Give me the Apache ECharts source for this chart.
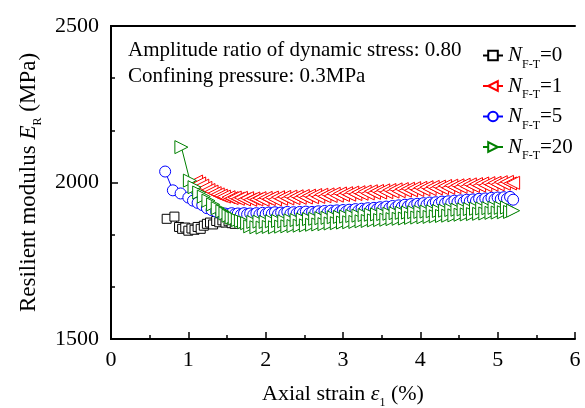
<!DOCTYPE html>
<html>
<head>
<meta charset="utf-8">
<script src="https://cdn.jsdelivr.net/npm/echarts@6/dist/echarts.min.js"></script>
<style>
html,body{margin:0;padding:0;background:#fff}
#chart{width:585px;height:408px}
</style>
</head>
<body>
<div id="chart"></div>
<script>
// N(F-T)=0
var strain0 = [0.72,0.82,0.88,0.92,0.96,1.00,1.04,1.08,1.12,1.16,1.20,1.24,1.28,1.32,1.36,1.40,1.44,1.48,1.52,1.56,1.60];
var modulus0 = [1884,1891,1858,1852,1856,1846,1853,1849,1858,1852,1862,1868,1872,1866,1877,1873,1879,1872,1876,1870,1868];

// strain readings shared by the long tests (1.52 .. 5.20)
var strainTail = [1.52,1.56,1.60,1.64,1.68,1.72,1.76,1.80,1.84,1.88,
  1.92,1.96,2.00,2.04,2.08,2.12,2.16,2.20,2.24,2.28,
  2.32,2.36,2.40,2.44,2.48,2.52,2.56,2.60,2.64,2.68,
  2.72,2.76,2.80,2.84,2.88,2.92,2.96,3.00,3.04,3.08,
  3.12,3.16,3.20,3.24,3.28,3.32,3.36,3.40,3.44,3.48,
  3.52,3.56,3.60,3.64,3.68,3.72,3.76,3.80,3.84,3.88,
  3.92,3.96,4.00,4.04,4.08,4.12,4.16,4.20,4.24,4.28,
  4.32,4.36,4.40,4.44,4.48,4.52,4.56,4.60,4.64,4.68,
  4.72,4.76,4.80,4.84,4.88,4.92,4.96,5.00,5.04,5.08,
  5.12,5.16,5.20];

// N(F-T)=1
var strainHead1 = [1.10,1.14,1.18,1.22,1.26,1.30,1.34,1.38,1.42,1.46];
var modulusHead1 = [2003,1997,1990,1983,1976,1971,1966,1962,1958,1955];
var modulusTail1 = [1953,1950,1952,1948,1951,1946,1950,1945,1949,1946,
  1950,1945,1951,1947,1952,1946,1953,1948,1954,1949,
  1955,1950,1956,1951,1957,1952,1958,1953,1960,1954,
  1961,1956,1962,1957,1964,1958,1965,1960,1966,1961,
  1968,1963,1969,1964,1971,1965,1972,1967,1973,1968,
  1975,1969,1976,1971,1978,1972,1979,1974,1980,1975,
  1982,1976,1983,1978,1985,1979,1986,1981,1987,1982,
  1989,1983,1990,1985,1991,1986,1993,1987,1994,1989,
  1995,1990,1997,1991,1998,1993,1999,1994,2001,1996,
  2002,1997,1999];

// N(F-T)=5
var strainHead5 = [0.70,0.80,0.90,1.00,1.06,1.12,1.18,1.24,1.30,1.36,1.42,1.47];
var modulusHead5 = [2035,1975,1965,1952,1942,1935,1928,1918,1912,1907,1903,1901];
var modulusTail5 = [1899,1902,1898,1901,1897,1902,1898,1901,1897,1902,
  1898,1903,1899,1904,1900,1905,1899,1904,1901,1906,
  1900,1905,1901,1906,1902,1907,1901,1906,1903,1908,
  1903,1909,1904,1910,1905,1911,1906,1912,1907,1913,
  1909,1915,1910,1916,1912,1918,1913,1919,1915,1921,
  1917,1923,1918,1925,1920,1927,1922,1929,1924,1931,
  1926,1932,1928,1934,1929,1936,1931,1937,1932,1939,
  1934,1940,1935,1942,1937,1943,1938,1945,1940,1946,
  1941,1948,1943,1949,1944,1951,1946,1952,1947,1953,
  1948,1954,1945];

// N(F-T)=20
var strainHead20 = [0.91,1.02,1.08,1.14,1.20,1.26,1.32,1.38,1.44,1.48];
var modulusHead20 = [2113,2006,1985,1968,1955,1942,1930,1918,1908,1901];
var modulusTail20 = [1894,1888,1885,1880,1877,1873,1870,1860,1874,1857,
  1875,1856,1874,1858,1876,1857,1877,1859,1876,1860,
  1879,1861,1880,1862,1882,1863,1883,1865,1884,1866,
  1886,1867,1887,1869,1889,1870,1890,1872,1891,1873,
  1893,1874,1894,1876,1896,1877,1897,1879,1898,1880,
  1899,1881,1900,1883,1902,1884,1903,1885,1904,1887,
  1905,1888,1906,1889,1907,1890,1908,1892,1909,1893,
  1910,1894,1912,1895,1913,1897,1914,1898,1915,1899,
  1916,1900,1917,1901,1918,1903,1919,1904,1919,1905,
  1920,1906,1910];

var xTicks = [0,1,2,3,4,5,6];
var yTicks = [1500,2000,2500];

var serif = '"Liberation Serif","Times New Roman",serif';

function pairs(xs, ys){
  return xs.map(function(x,i){ return [x, ys[i]]; });
}

function makeSerie(name, xs, ys, color, symbol, rot, size){
  return {
    name: name,
    type: 'line',
    data: pairs(xs, ys),
    symbol: symbol,
    symbolSize: size,
    symbolRotate: rot,
    showAllSymbol: true,
    lineStyle: { color: color, width: 1 },
    itemStyle: { color: '#fff', borderColor: color, borderWidth: 1 },
    emphasis: { disabled: true },
    animation: false
  };
}

var frameAxis = {
  axisLine: { show: true, lineStyle: { color: '#000', width: 2 } },
  axisTick: { show: false },
  axisLabel: { show: false },
  splitLine: { show: false }
};

var myChart = echarts.init(document.getElementById('chart'));
var option = {
  backgroundColor: '#fff',
  animation: false,
  grid: { left: 111, right: 10, top: 26, bottom: 69, containLabel: false, outerBoundsMode: 'none' },
  legend: {
    orient: 'vertical',
    left: 477,
    top: 40,
    itemWidth: 20,
    itemHeight: 12,
    itemGap: 5,
    data: ['N=0','N=1','N=5','N=20'],
    formatter: function(name){
      return '{n|N}{s|F-T}{t|=' + name.split('=')[1] + '}';
    },
    textStyle: {
      rich: {
        n: { fontFamily: serif, fontStyle: 'italic', fontSize: 21, color: '#000' },
        s: { fontFamily: serif, fontSize: 12, color: '#000', padding: [18,0,0,0] },
        t: { fontFamily: serif, fontSize: 21, color: '#000' }
      }
    }
  },
  graphic: [
    { type: 'text', left: 128, top: 40, style: { text: 'Amplitude ratio of dynamic stress: 0.80', font: '21px ' + serif, fill: '#000' } },
    { type: 'text', left: 128, top: 66, style: { text: 'Confining pressure: 0.3MPa', font: '21px ' + serif, fill: '#000' } }
  ],
  xAxis: [{
    type: 'value',
    min: xTicks[0],
    max: xTicks[xTicks.length-1],
    interval: 1,
    name: '{t|Axial strain }{i|ε}{s|1}{t| (%)}',
    nameLocation: 'middle',
    nameGap: 40,
    nameTextStyle: {
      rich: {
        t: { fontFamily: serif, fontSize: 22, color: '#000' },
        i: { fontFamily: serif, fontSize: 22, fontStyle: 'italic', color: '#000' },
        s: { fontFamily: serif, fontSize: 12, color: '#000', padding: [18,0,0,0] }
      }
    },
    axisLine: { lineStyle: { color: '#000', width: 2 } },
    axisTick: { inside: true, length: 7, lineStyle: { color: '#000', width: 1.5 } },
    minorTick: { show: true, splitNumber: 2, length: 4, lineStyle: { color: '#000', width: 1.5 } },
    axisLabel: { fontFamily: serif, fontSize: 22, color: '#000', margin: 10 },
    splitLine: { show: false }
  }, Object.assign({ type: 'value', position: 'top', min: 0, max: 6 }, frameAxis)],
  yAxis: [{
    type: 'value',
    min: yTicks[0],
    max: yTicks[yTicks.length-1],
    interval: 500,
    name: '{t|Resilient modulus }{i|E}{s|R}{t| (MPa)}',
    nameLocation: 'middle',
    nameGap: 66,
    nameTextStyle: {
      rich: {
        t: { fontFamily: serif, fontSize: 23, color: '#000' },
        i: { fontFamily: serif, fontSize: 23, fontStyle: 'italic', color: '#000' },
        s: { fontFamily: serif, fontSize: 12, color: '#000', padding: [18,0,0,0] }
      }
    },
    axisLine: { lineStyle: { color: '#000', width: 2 } },
    axisTick: { inside: true, length: 7, lineStyle: { color: '#000', width: 1.5 } },
    minorTick: { show: true, splitNumber: 3, length: 4, lineStyle: { color: '#000', width: 1.5 } },
    axisLabel: { fontFamily: serif, fontSize: 22, color: '#000', margin: 12, formatter: function(v){ return String(v); } },
    splitLine: { show: false }
  }, Object.assign({ type: 'value', position: 'right', min: 1500, max: 2500 }, frameAxis)],
  series: [
    makeSerie('N=0', strain0, modulus0, '#000000', 'rect', 0, 9),
    makeSerie('N=1', strainHead1.concat(strainTail), modulusHead1.concat(modulusTail1), '#ff0000', 'triangle', 90, 13),
    makeSerie('N=5', strainHead5.concat(strainTail), modulusHead5.concat(modulusTail5), '#0000ff', 'circle', 0, 11),
    makeSerie('N=20', strainHead20.concat(strainTail), modulusHead20.concat(modulusTail20), '#008000', 'triangle', -90, 13)
  ]
};
myChart.setOption(option);
window.addEventListener('resize', function(){ myChart.resize(); });
</script>
</body>
</html>
